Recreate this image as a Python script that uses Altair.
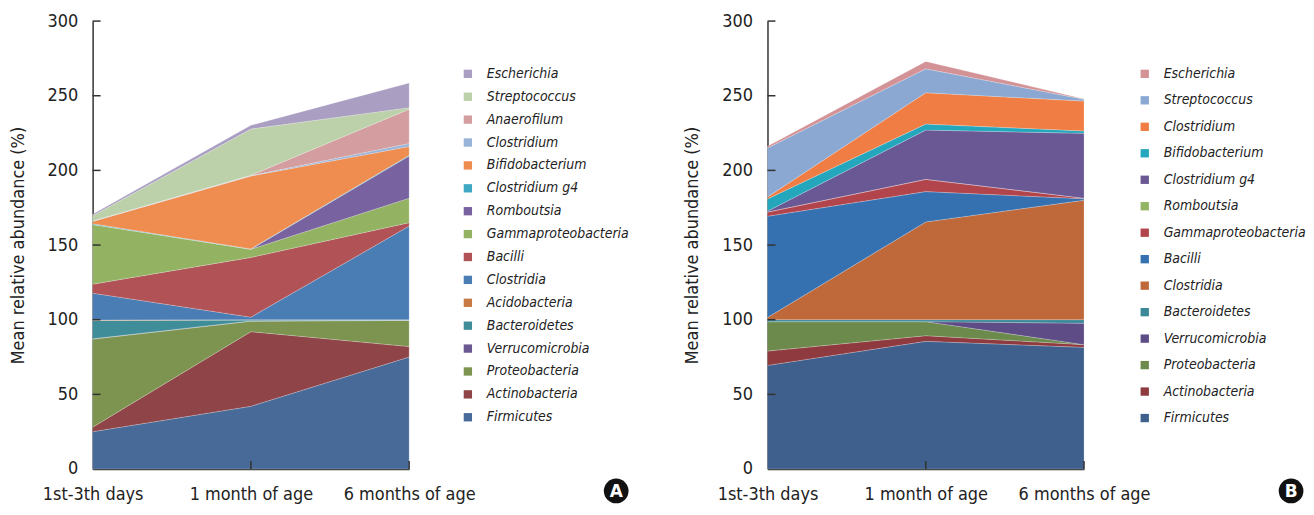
import altair as alt
import pandas as pd

stages = ["1st-3th days", "1 month of age", "6 months of age"]
y_ticks = [50, 100, 150, 200, 250, 300]

# Panel A (stack order: bottom -> top)
a_taxa = ["Firmicutes", "Actinobacteria", "Proteobacteria", "Verrucomicrobia", "Bacteroidetes",
          "Acidobacteria", "Clostridia", "Bacilli", "Gammaproteobacteria", "Romboutsia",
          "Clostridium g4", "Bifidobacterium", "Clostridium", "Anaerofilum", "Streptococcus", "Escherichia"]
a_day = [25, 3, 59, 0.2, 12.3, 0.3, 18, 6, 40, 0, 0.5, 1.5, 0.3, 0, 3.5, 1]
a_1m = [42, 50, 7, 0.2, 0.6, 0.1, 1.8, 40, 5.5, 0, 0.2, 48.8, 0.3, 0.2, 31, 2.5]
a_6m = [75, 7, 17.5, 0.2, 0.1, 0.1, 62.8, 2.3, 16.4, 28.2, 0.5, 5.9, 2, 23, 1, 16.5]
a_colors = ["#476a98", "#8f4448", "#7c944f", "#6a5890", "#3e8d99", "#c87a45", "#4a7db4", "#b05256",
            "#93b363", "#7862a0", "#3fa9c4", "#ef8c50", "#98b4d8", "#d49ea0", "#bcd1a9", "#aa9fc2"]

# Panel B (stack order: bottom -> top)
b_taxa = ["Firmicutes", "Actinobacteria", "Proteobacteria", "Verrucomicrobia", "Bacteroidetes",
          "Clostridia", "Bacilli", "Gammaproteobacteria", "Romboutsia", "Clostridium g4",
          "Bifidobacterium", "Clostridium", "Streptococcus", "Escherichia"]
b_day = [69.4, 9.6, 19.7, 0, 1.3, 1.5, 67.8, 2.8, 0, 0.6, 8.2, 1.3, 32.8, 1.1]
b_1m = [85.5, 3.8, 9.4, 0, 1.3, 65.5, 20.3, 8.2, 0, 33, 4, 21, 16, 5]
b_6m = [81.5, 1.8, 0, 14.3, 2.4, 80, 1, 0.4, 0, 43.4, 1.6, 20, 1.2, 0.2]
b_colors = ["#3f5f8c", "#8f3a3e", "#6b8a4c", "#5e4c86", "#3a8898", "#bf693b", "#3571b1", "#b2454c",
            "#93b462", "#6a5894", "#24a6bc", "#ef7d44", "#8aa8d2", "#d39296"]

FONT = "DejaVu Sans Condensed, DejaVu Sans, sans-serif"
W, H = 318, 450


def long_frame(taxa, cols):
    rows = []
    for i, t in enumerate(taxa):
        for s, col in zip(stages, cols):
            rows.append({"stage": s, "taxon": t, "value": col[i], "ord": i})
    return pd.DataFrame(rows)


def panel(taxa, cols, colors, letter, legend_x, row_pad):
    df = long_frame(taxa, cols)
    legend_domain = list(reversed(taxa))
    legend_range = list(reversed(colors))
    xenc = alt.X("stage:O", sort=stages, scale=alt.Scale(type="point", padding=0),
                 axis=alt.Axis(title=None, labelAngle=0, ticks=False, tickSize=0, labelPadding=17,
                               labelFont=FONT, labelFontSize=18, labelColor="#222",
                               domainColor="#333", domainWidth=1.5, grid=False))
    area = alt.Chart(df).mark_area(opacity=1, strokeWidth=0.6, stroke="white", strokeOpacity=0.35).encode(
        x=xenc,
        y=alt.Y("value:Q", stack="zero", scale=alt.Scale(domain=[0, 300], nice=False),
                axis=alt.Axis(title="Mean relative abundance (%)", values=[0, 50, 100, 150, 200, 250, 300],
                              ticks=False, tickSize=0, labelPadding=15, labelFont=FONT, labelFontSize=18,
                              labelColor="#222", titleFont=FONT, titleFontSize=18, titleFontWeight="normal",
                              titleColor="#222", titlePadding=20, domainColor="#333", domainWidth=1.5,
                              grid=False)),
        color=alt.Color("taxon:N", scale=alt.Scale(domain=legend_domain, range=legend_range),
                        legend=alt.Legend(title=None, orient="none", legendX=legend_x, legendY=46,
                                          symbolType="square", symbolSize=70, symbolStrokeWidth=0,
                                          labelFont=FONT, labelFontSize=14, labelFontStyle="italic",
                                          labelColor="#222", labelOffset=12, labelLimit=300,
                                          rowPadding=row_pad)),
        order=alt.Order("ord:Q", sort="ascending"),
    )
    # inward tick marks (drawn through the chart's own scales)
    xt = alt.Chart(pd.DataFrame({"stage": stages[1:]})).mark_rule(color="#333", strokeWidth=1.5).encode(
        x=alt.X("stage:O", sort=stages), y=alt.value(H), y2=alt.value(H - 8))
    yt = alt.Chart(pd.DataFrame({"value": y_ticks})).mark_rule(color="#333", strokeWidth=1.5).encode(
        y=alt.Y("value:Q"), x=alt.value(0), x2=alt.value(8))
    badge_df = pd.DataFrame({"lab": [letter]})
    circ = alt.Chart(badge_df).mark_circle(size=615, color="#111", opacity=1).encode(
        x=alt.value(526), y=alt.value(472))
    txt = alt.Chart(badge_df).mark_text(font="DejaVu Sans", fontSize=17, fontWeight="bold", color="white",
                                        align="center", baseline="middle").encode(
        x=alt.value(526), y=alt.value(473), text="lab:N")
    return alt.layer(area, xt, yt, circ, txt).properties(width=W, height=H)


chart_a = panel(a_taxa, [a_day, a_1m, a_6m], a_colors, "A", 370, 9)
chart_b = panel(b_taxa, [b_day, b_1m, b_6m], b_colors, "B", 372, 12.6)

chart = alt.hconcat(chart_a, chart_b, spacing=55).resolve_scale(color="independent").properties(
    padding={"left": 1, "top": 3, "right": 0, "bottom": 0}
).configure_view(stroke=None)

chart.save("out.html", embed_options={"renderer": "svg", "actions": False})
